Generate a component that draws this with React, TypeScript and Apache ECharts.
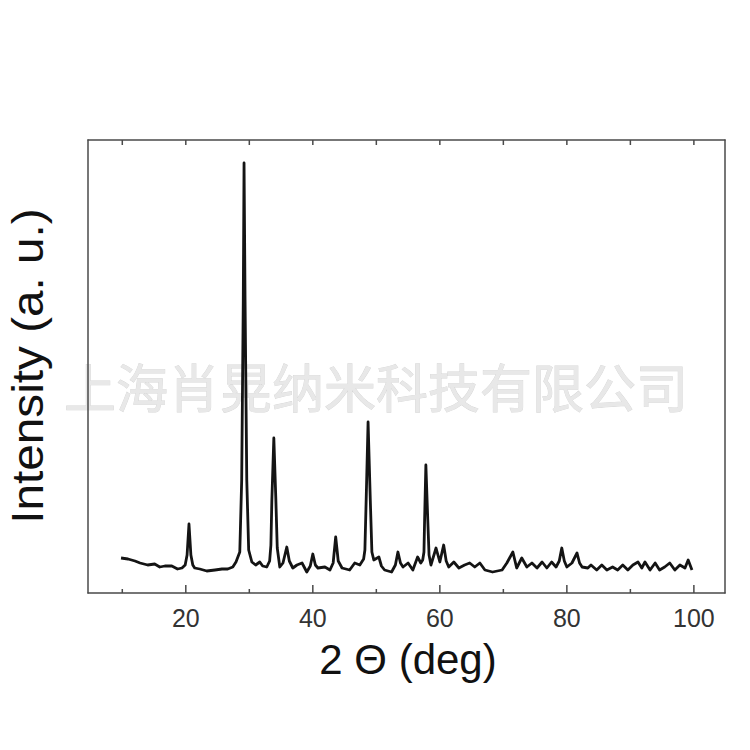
import React, { useEffect, useRef } from "react";
import * as echarts from "echarts";

const twoTheta = [
  9.8, 10.9, 12.0, 12.8, 14.0, 15.1, 15.9, 16.7, 17.8, 18.7, 19.4, 19.9, 20.2, 20.5, 20.8, 21.1, 21.4,
  22.2, 23.3, 24.6, 25.7, 26.6, 27.4, 27.9, 28.5, 28.8, 29.05, 29.17, 29.33, 29.6, 29.9, 30.4, 31.0,
  31.65, 32.1, 32.75, 33.2, 33.4, 33.55, 33.86, 34.18, 34.4, 34.8, 35.3, 35.9, 36.3, 36.85, 37.5, 38.3,
  39.05, 39.6, 40.0, 40.4, 40.8, 41.9, 42.7, 43.2, 43.6, 44.0, 44.6, 45.8, 46.6, 47.4, 48.0, 48.2, 48.4,
  48.7, 49.05, 49.3, 49.6, 50.4, 50.8, 51.3, 52.4, 53.0, 53.4, 53.8, 54.2, 55.0, 55.75, 56.5, 57.0, 57.3,
  57.5, 57.6, 57.8, 58.1, 58.3, 58.6, 59.4, 60.0, 60.6, 61.0, 61.4, 62.2, 63.0, 63.9, 64.7, 65.5, 66.3,
  67.1, 68.3, 69.8, 70.55, 71.5, 72.1, 72.9, 73.7, 74.5, 75.3, 76.1, 76.85, 77.6, 78.3, 78.8, 79.2, 79.6,
  80.0, 80.8, 81.6, 82.0, 82.4, 83.3, 83.8, 84.7, 85.5, 86.3, 87.2, 88.0, 88.8, 89.6, 90.4, 91.2, 91.8,
  92.3, 93.1, 93.9, 94.6, 95.4, 96.2, 97.0, 97.8, 98.6, 99.1, 99.7,
];
const intensity = [
  35, 34, 32, 30, 28, 29, 26, 27, 27, 24, 25, 28, 38, 69, 38, 28, 25,
  24, 22, 23, 24, 24, 26, 31, 41, 113, 293, 430, 293, 113, 43, 31, 28,
  31, 27, 26, 32, 48, 93, 155, 93, 45, 26, 30, 46, 32, 25, 28, 30,
  21, 27, 39, 28, 25, 26, 23, 30, 56, 32, 25, 23, 30, 28, 34, 43, 93,
  171, 93, 41, 33, 36, 27, 23, 21, 28, 41, 30, 26, 30, 23, 36, 30, 33,
  41, 73, 128, 73, 38, 28, 45, 31, 48, 32, 26, 31, 25, 28, 30, 26, 30,
  23, 21, 23, 30, 41, 25, 35, 26, 30, 25, 31, 25, 31, 26, 32, 45, 32,
  26, 30, 40, 30, 26, 25, 28, 23, 28, 23, 26, 23, 28, 23, 28, 31, 25,
  31, 23, 30, 23, 26, 30, 23, 28, 25, 33, 23,
];
const majorTicks = [20, 40, 60, 80, 100];
const minorTicks = [10, 30, 50, 70, 90];
const topTicks = [10, 20, 30, 40, 50, 60, 70, 80, 90, 100];
const xName = "2 Θ (deg)";
const yName = "Intensity (a. u.)";
const watermark = "上海肖晃纳米科技有限公司";

export default function App() {
  const ref = useRef<HTMLDivElement>(null);
  useEffect(() => {
    document.body.style.margin = "0";
    const chart = echarts.init(ref.current!, null, { renderer: "svg" });
    const data = twoTheta.map((x, i) => [x, intensity[i]]);
    const frame = "#4a4a4a";
    const xMin = 4.6;
    const xMax = 104.9;
    const yMax = 453;
    const font = "Liberation Sans";
    const lineAxis = { show: true, onZero: false, lineStyle: { color: frame, width: 1.5 } };
    const tickSeries = (values: number[], len: number, top: boolean) => ({
      type: "custom",
      xAxisIndex: 0,
      yAxisIndex: 0,
      silent: true,
      clip: false,
      z: 4,
      data: values.map((v) => [v, top ? yMax : 0]),
      renderItem: (_params: any, api: any) => {
        const p = api.coord([api.value(0), api.value(1)]);
        return {
          type: "line",
          shape: { x1: p[0], y1: p[1], x2: p[0], y2: top ? p[1] + len : p[1] - len },
          style: { stroke: frame, lineWidth: 1.5 },
        };
      },
    });
    chart.setOption({
      animation: false,
      backgroundColor: "#ffffff",
      grid: { left: 88, right: 25, top: 140, bottom: 157 },
      xAxis: [
        {
          type: "value",
          position: "bottom",
          min: xMin,
          max: xMax,
          axisLine: lineAxis,
          axisTick: { show: false },
          axisLabel: { show: true, customValues: majorTicks, fontSize: 25, color: "#333", margin: 12, fontFamily: font },
          splitLine: { show: false },
        },
        {
          type: "value",
          position: "top",
          min: xMin,
          max: xMax,
          axisLine: lineAxis,
          axisTick: { show: false },
          axisLabel: { show: false },
          splitLine: { show: false },
        },
      ],
      yAxis: [
        {
          type: "value",
          position: "left",
          min: 0,
          max: yMax,
          axisLine: lineAxis,
          axisTick: { show: false },
          axisLabel: { show: false },
          splitLine: { show: false },
        },
        {
          type: "value",
          position: "right",
          min: 0,
          max: yMax,
          axisLine: lineAxis,
          axisTick: { show: false },
          axisLabel: { show: false },
          splitLine: { show: false },
        },
      ],
      series: [
        {
          type: "line",
          xAxisIndex: 0,
          yAxisIndex: 0,
          data,
          showSymbol: false,
          symbol: "none",
          lineStyle: { color: "#141414", width: 2.8, join: "round" },
          z: 3,
        },
        tickSeries(majorTicks, 8, false),
        tickSeries(minorTicks, 4, false),
        tickSeries(topTicks, 5, true),
      ],
      graphic: [
        {
          type: "text",
          x: 376,
          y: 385,
          z: -10,
          style: {
            text: watermark,
            fontSize: 52,
            fontFamily: "Noto Sans CJK SC",
            fill: "#e8e8e8",
            stroke: "#d6d6d6",
            lineWidth: 0.8,
            align: "center",
            verticalAlign: "middle",
          },
        },
        {
          type: "text",
          x: 408,
          y: 659,
          style: {
            text: xName,
            fontSize: 42,
            fontFamily: font,
            fill: "#111",
            align: "center",
            verticalAlign: "middle",
          },
        },
        {
          type: "text",
          x: 27,
          y: 366,
          rotation: Math.PI / 2,
          scaleX: 1.06,
          style: {
            text: yName,
            fontSize: 45,
            fontFamily: font,
            fill: "#111",
            align: "center",
            verticalAlign: "middle",
          },
        },
      ],
    });
    return () => chart.dispose();
  }, []);
  return <div ref={ref} style={{ position: "fixed", left: 0, top: 0, width: 750, height: 750 }} />;
}
